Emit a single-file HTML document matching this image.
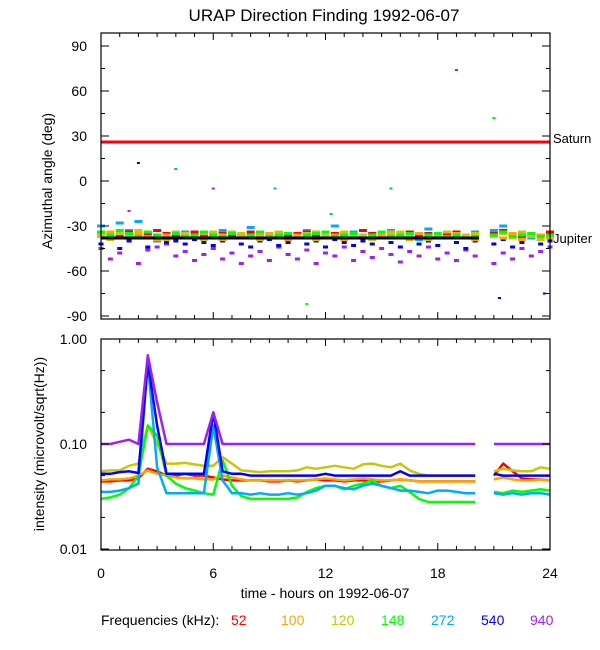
<!DOCTYPE html>
<html><head><meta charset="utf-8"><style>
body{margin:0;background:#fff;}
svg{display:block;font-family:"Liberation Sans",Arial,sans-serif;}
text{fill:#000;}
</style></head><body>
<svg id="c" width="600" height="650" xmlns="http://www.w3.org/2000/svg">
<text x="324" y="21" text-anchor="middle" font-size="17">URAP Direction Finding  1992-06-07</text>
<text transform="translate(52,181) rotate(-90)" text-anchor="middle" font-size="14">Azimuthal angle (deg)</text>
<text transform="translate(44,444) rotate(-90)" text-anchor="middle" font-size="14">intensity (microvolt/sqrt(Hz))</text>
<text x="325" y="598" text-anchor="middle" font-size="14">time - hours on 1992-06-07</text>
<g id="legend" font-size="14">
<text x="101" y="625">Frequencies (kHz):</text>
</g>
<g id="g"></g>
</svg>
<script>
const times=[];for(let i=0;i<49;i++)times.push(i/2);
const freqs=['52','100','120','148','272','540','940'];
const colors={'52':'#ff0000','100':'#ffa500','120':'#c8c800','148':'#00ff00','272':'#00aaff','540':'#0000ff','940':'#a020f0'};
const xTicks=[0,6,12,18,24];
const angTicks=[90,60,30,0,-30,-60,-90];
const intTicks=[1,0.1,0.01];
const intTickLabels=['1.00','0.10','0.01'];
const saturnAngle=26, jupiterAngle=-38, jupiterEnd=20.2;
const int52=[.044,.044,.045,.045,.047,.058,.055,.05,.05,.052,.05,.05,.048,.046,.045,.045,.045,.045,.044,.044,.045,.044,.045,.046,.045,.045,.044,.045,.045,.044,.044,.045,.046,.045,.044,.044,.044,.044,.044,.044,.044,null,.05,.065,.055,.047,.046,.046,.045];
const int100=[.045,.046,.046,.047,.05,.056,.052,.05,.048,.047,.047,.046,.046,.05,.048,.046,.045,.045,.045,.045,.045,.045,.045,.046,.047,.046,.045,.046,.047,.046,.045,.045,.046,.045,.044,.044,.044,.044,.044,.044,.044,null,.046,.048,.046,.045,.045,.046,.045];
const int120=[.055,.056,.056,.062,.065,.15,.1,.065,.065,.066,.064,.062,.062,.075,.065,.056,.055,.054,.055,.055,.055,.056,.06,.058,.06,.062,.06,.058,.064,.065,.062,.06,.065,.056,.052,.05,.05,.05,.05,.05,.05,null,.055,.058,.056,.055,.055,.06,.058];
const int148=[.03,.031,.033,.038,.05,.15,.12,.05,.042,.038,.036,.034,.033,.07,.04,.032,.03,.03,.03,.03,.03,.031,.035,.038,.04,.04,.037,.04,.042,.045,.04,.038,.04,.035,.03,.028,.028,.028,.028,.028,.028,null,.035,.034,.036,.035,.036,.037,.036];
const int272=[.035,.035,.036,.038,.042,.6,.06,.034,.034,.034,.034,.034,.15,.045,.034,.034,.033,.034,.033,.033,.034,.033,.034,.036,.04,.04,.038,.037,.04,.042,.04,.038,.036,.036,.035,.034,.036,.036,.035,.034,.034,null,.034,.033,.034,.033,.034,.034,.033];
const int540=[.052,.052,.054,.055,.053,.6,.15,.052,.052,.052,.052,.052,.2,.055,.052,.052,.05,.05,.05,.05,.05,.05,.05,.05,.052,.05,.05,.05,.05,.05,.05,.05,.055,.05,.05,.05,.05,.05,.05,.05,.05,null,.052,.05,.05,.05,.05,.05,.05];
const int940=[.1,.1,.105,.11,.1,.7,.25,.1,.1,.1,.1,.1,.2,.1,.1,.1,.1,.1,.1,.1,.1,.1,.1,.1,.1,.1,.1,.1,.1,.1,.1,.1,.1,.1,.1,.1,.1,.1,.1,.1,.1,null,.1,.1,.1,.1,.1,.1,.1];
const ang52=[-35,-37,-36,-34,-38,-36,-33,-35,-37,-36,-34,-36,-38,-35,-37,-36,-34,-35,-38,-36,-37,-35,-34,-36,-38,-35,-37,-36,-33,-35,-37,-36,-38,-34,-36,-35,-37,-36,-34,-38,-36,null,-35,-33,-36,-37,-35,-36,-34];
const ang100=[-37,-34,-38,-36,-35,-37,-39,-36,-34,-38,-37,-35,-36,-39,-34,-37,-38,-36,-35,-37,-39,-36,-38,-34,-37,-36,-39,-35,-37,-38,-36,-34,-37,-39,-35,-37,-36,-38,-35,-37,-39,null,-36,-38,-35,-39,-37,-36,-38];
const ang120=[-36,-39,-35,-37,-33,-38,-36,-39,-38,-35,-37,-39,-34,-36,-38,-35,-37,-39,-36,-34,-38,-37,-35,-39,-36,-38,-34,-37,-36,-39,-38,-35,-34,-37,-38,-39,-36,-34,-38,-36,-35,null,-37,-35,-38,-34,-36,-39,-37];
const ang148=[-34,-36,-33,-35,-37,-34,-36,-38,-35,-37,-36,-34,-36,-37,-35,-38,-36,-34,-37,-36,-35,-38,-36,-35,-34,-37,-36,-35,-38,-36,-34,-37,-36,-35,-38,-36,-35,-37,-36,-38,-37,null,-36,-34,-37,-36,-35,-37,-36];
const ang272=[-30,-38,-28,-33,-27,-35,-40,-36,-37,-34,-36,-38,-35,-33,-37,-36,-31,-35,-38,-34,-37,-36,-33,-35,-38,-30,-36,-34,-37,-35,-38,-33,-36,-34,-39,-32,-37,-35,-36,-38,-34,null,-33,-30,-37,-35,-38,-36,-34];
const ang540=[-42,-38,-45,-40,-36,-44,-38,-41,-40,-42,-39,-41,-43,-40,-38,-42,-44,-40,-39,-43,-41,-38,-42,-40,-44,-39,-41,-43,-40,-42,-38,-41,-44,-39,-42,-40,-43,-38,-41,-45,-40,null,-42,-39,-44,-41,-38,-42,-40];
const ang940=[-45,-52,-48,-40,-55,-46,-44,-42,-50,-47,-53,-49,-45,-52,-48,-55,-50,-47,-53,-44,-49,-52,-46,-55,-48,-50,-44,-53,-47,-51,-45,-49,-54,-47,-50,-44,-52,-48,-53,-46,-50,null,-55,-48,-52,-45,-50,-47,-44];
const outT=[19,4,2,21,11,21.3,15.5,9.3,6,23.7,1.5,12.3];
const outA=[74,8,12,42,-82,-78,-5,-5,-5,-75,-20,-22];
const outF=['940','272','540','148','148','540','272','272','940','540','940','272'];

const intens={'52':int52,'100':int100,'120':int120,'148':int148,'272':int272,'540':int540,'940':int940};
const angs={'52':ang52,'100':ang100,'120':ang120,'148':ang148,'272':ang272,'540':ang540,'940':ang940};
const X0=101,X1=550,T0=33,T1=319,B0=339,B1=550;
const xs=t=>X0+t*(X1-X0)/24;
const yA=a=>181-a*1.5;
const yI=v=>B0-Math.log10(v)*105;
const NS='http://www.w3.org/2000/svg';
const g=document.getElementById('g');
function mk(tag,at,parent){const e=document.createElementNS(NS,tag);for(const k in at)e.setAttribute(k,at[k]);(parent||g).appendChild(e);return e;}

const ap=mk('g',{});


const sat=mk('line',{x1:xs(0),x2:X1,y1:yA(saturnAngle),y2:yA(saturnAngle),stroke:'#ff0000','stroke-width':3},ap);


['940','540','272','52','100','120','148'].forEach(f=>{
  const w=(f==='940'||f==='540')?5:8;
  angs[f].forEach((a,i)=>{
    if(a===null)return;
    const r=mk('rect',{x:xs(times[i])-w/2,y:yA(a)-1.5,width:w,height:3,fill:colors[f]},ap);
    
    
  });
});
outT.forEach((t,i)=>{
  const r=mk('rect',{x:xs(t)-1.5,y:yA(outA[i])-1,width:3,height:2,fill:colors[outF[i]]},ap);
  
  
});
const jup=mk('line',{x1:xs(0),x2:xs(jupiterEnd),y1:yA(jupiterAngle),y2:yA(jupiterAngle),stroke:'#000','stroke-width':3},ap);



['52','100','120','148','272','540','940'].forEach(f=>{
  let d='',pen=false;
  intens[f].forEach((v,i)=>{
    if(v===null){pen=false;return;}
    d+=(pen?'L':'M')+xs(times[i]).toFixed(1)+','+yI(v).toFixed(1);pen=true;
  });
  const p=mk('path',{d:d,fill:'none',stroke:colors[f],'stroke-width':2.5,'stroke-linejoin':'round'});
  
  
});

[[T0,T1,'top'],[B0,B1,'bottom']].forEach(([a,b,n])=>{
  const r=mk('rect',{x:X0,y:a,width:X1-X0,height:b-a,fill:'none',stroke:'#000','stroke-width':1.2});
  
  
  for(let h=0;h<=24;h++){
    const L=h%6===0?7:4;
    mk('line',{x1:xs(h),x2:xs(h),y1:a,y2:a+L,stroke:'#000'});
    mk('line',{x1:xs(h),x2:xs(h),y1:b,y2:b-L,stroke:'#000'});
  }
});
for(let d=90;d>=-90;d-=15){
  const L=d%30===0?8:4;
  mk('line',{x1:X0,x2:X0+L,y1:yA(d),y2:yA(d),stroke:'#000'});
  mk('line',{x1:X1,x2:X1-L,y1:yA(d),y2:yA(d),stroke:'#000'});
}
angTicks.forEach(d=>{
  const t=mk('text',{x:87,y:yA(d)+5,'text-anchor':'end','font-size':14});
  t.textContent=d;
  
  
});
intTicks.forEach((v,i)=>{
  mk('line',{x1:X0,x2:X0+8,y1:yI(v),y2:yI(v),stroke:'#000'});
  mk('line',{x1:X1,x2:X1-8,y1:yI(v),y2:yI(v),stroke:'#000'});
  if(v<1){[2,5].forEach(m=>{const y=yI(v*m);mk('line',{x1:X0,x2:X0+4,y1:y,y2:y,stroke:'#000'});mk('line',{x1:X1,x2:X1-4,y1:y,y2:y,stroke:'#000'});});}
  const t=mk('text',{x:87,y:yI(v)+5,'text-anchor':'end','font-size':14});
  t.textContent=intTickLabels[i];
  
  
});
xTicks.forEach(h=>{
  const t=mk('text',{x:xs(h),y:578,'text-anchor':'middle','font-size':14});
  t.textContent=h;
  
  
});
const s=mk('text',{x:553,y:143,'font-size':13});s.textContent='Saturn';


const j=mk('text',{x:553,y:243,'font-size':13});j.textContent='Jupiter';


const lg=document.getElementById('legend');
const lx=[231,281,331,381,431,481,530];
freqs.forEach((f,i)=>{
  const t=mk('text',{x:lx[i],y:625,style:'fill:'+colors[f]},lg);
  t.textContent=f;
  
  
});
</script>
</body></html>
